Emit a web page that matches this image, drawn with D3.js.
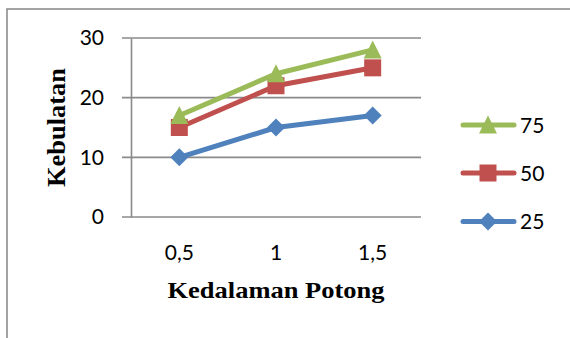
<!DOCTYPE html>
<html>
<head>
<meta charset="utf-8">
<script src="https://cdn.jsdelivr.net/npm/d3@7"></script>
<style>
  html, body { margin: 0; padding: 0; background: #fff; }
  svg { display: block; }
</style>
</head>
<body>
<svg id="chart" width="570" height="338"></svg>
<script>
// Kebulatan per kedalaman potong, three series
const categories = ["0,5", "1", "1,5"];
const seriesNames = ["25", "50", "75"];
const values25 = [10, 15, 17];
const values50 = [15, 22, 25];
const values75 = [17, 24, 28];
const yTicks = [0, 10, 20, 30];
const xTitle = "Kedalaman Potong";
const yTitle = "Kebulatan";

const series = [
  { name: seriesNames[0], values: values25, color: "#4F81BD", shape: "diamond" },
  { name: seriesNames[1], values: values50, color: "#C0504D", shape: "square" },
  { name: seriesNames[2], values: values75, color: "#9BBB59", shape: "triangle" }
];

const svg = d3.select("#chart");
const gridColor = "#8a8a8a";
const tickFont = "Lato, 'Open Sans', sans-serif";
const titleFont = "'Liberation Serif', 'Times New Roman', serif";

// chart frame
svg.append("rect")
  .attr("x", 7).attr("y", 9)
  .attr("width", 620).attr("height", 400)
  .attr("fill", "#fff")
  .attr("stroke", "#8c8c8c")
  .attr("stroke-width", 1.6);

const plot = { left: 131, right: 421, top: 38, bottom: 217 };

const x = d3.scaleBand().domain(categories).range([plot.left, plot.right]);
const y = d3.scaleLinear().domain([0, 30]).range([plot.bottom, plot.top]);

// horizontal gridlines (extend left as outer ticks)
svg.append("g")
  .selectAll("line")
  .data(yTicks)
  .join("line")
  .attr("x1", plot.left - 9).attr("x2", plot.right)
  .attr("y1", d => y(d)).attr("y2", d => y(d))
  .attr("stroke", gridColor)
  .attr("stroke-width", 1.6);

// y axis
const yAxis = svg.append("g")
  .attr("transform", `translate(${plot.left},0)`)
  .call(d3.axisLeft(y).tickValues(yTicks).tickSize(0).tickPadding(27).tickFormat(d3.format("d")));
yAxis.select(".domain").attr("stroke", gridColor).attr("stroke-width", 1.6);
yAxis.selectAll("text")
  .attr("font-family", tickFont).attr("font-size", 21).attr("fill", "#000");

// x axis
const xAxis = svg.append("g")
  .attr("transform", `translate(0,${plot.bottom})`)
  .call(d3.axisBottom(x).tickSize(0).tickPadding(28));
xAxis.select(".domain").remove();
xAxis.selectAll("text")
  .attr("font-family", tickFont).attr("font-size", 21).attr("fill", "#000");

// axis titles
svg.append("text")
  .attr("x", 276).attr("y", 298)
  .attr("text-anchor", "middle")
  .attr("font-family", titleFont).attr("font-weight", "bold")
  .attr("font-size", 24)
  .attr("textLength", 217).attr("lengthAdjust", "spacingAndGlyphs")
  .text(xTitle);

svg.append("text")
  .attr("transform", "translate(65,127.5) rotate(-90)")
  .attr("text-anchor", "middle")
  .attr("font-family", titleFont).attr("font-weight", "bold")
  .attr("font-size", 26)
  .attr("textLength", 119).attr("lengthAdjust", "spacingAndGlyphs")
  .text(yTitle);

// marker shapes
const shapes = {
  diamond: { draw(ctx) { ctx.moveTo(0, -9); ctx.lineTo(9, 0); ctx.lineTo(0, 9); ctx.lineTo(-9, 0); ctx.closePath(); } },
  square: { draw(ctx) { ctx.rect(-8.5, -8.5, 17, 17); } },
  triangle: { draw(ctx) { ctx.moveTo(0, -9.5); ctx.lineTo(9, 8.5); ctx.lineTo(-9, 8.5); ctx.closePath(); } }
};

const cx = c => x(c) + x.bandwidth() / 2;
const line = d3.line().x((d, i) => cx(categories[i])).y(d => y(d));

series.forEach(s => {
  const g = svg.append("g");
  g.append("path")
    .attr("d", line(s.values))
    .attr("fill", "none")
    .attr("stroke", s.color)
    .attr("stroke-width", 5)
    .attr("stroke-linejoin", "round")
    .attr("stroke-linecap", "round");
  g.selectAll("path.mark")
    .data(s.values)
    .join("path")
    .attr("class", "mark")
    .attr("d", d3.symbol().type(shapes[s.shape]))
    .attr("transform", (d, i) => `translate(${cx(categories[i])},${y(d)})`)
    .attr("fill", s.color);
});

// legend, top entry is the last series
const legendY = { "75": 125, "50": 173, "25": 221.5 };
const legend = svg.append("g");
series.forEach(s => {
  const ly = legendY[s.name];
  legend.append("line")
    .attr("x1", 463).attr("x2", 514)
    .attr("y1", ly).attr("y2", ly)
    .attr("stroke", s.color).attr("stroke-width", 5)
    .attr("stroke-linecap", "round");
  legend.append("path")
    .attr("d", d3.symbol().type(shapes[s.shape]))
    .attr("transform", `translate(488,${ly})`)
    .attr("fill", s.color);
  legend.append("text")
    .attr("x", 520).attr("y", ly)
    .attr("dy", "0.36em")
    .attr("font-family", tickFont).attr("font-size", 21)
    .attr("fill", "#000")
    .text(s.name);
});
</script>
</body>
</html>
